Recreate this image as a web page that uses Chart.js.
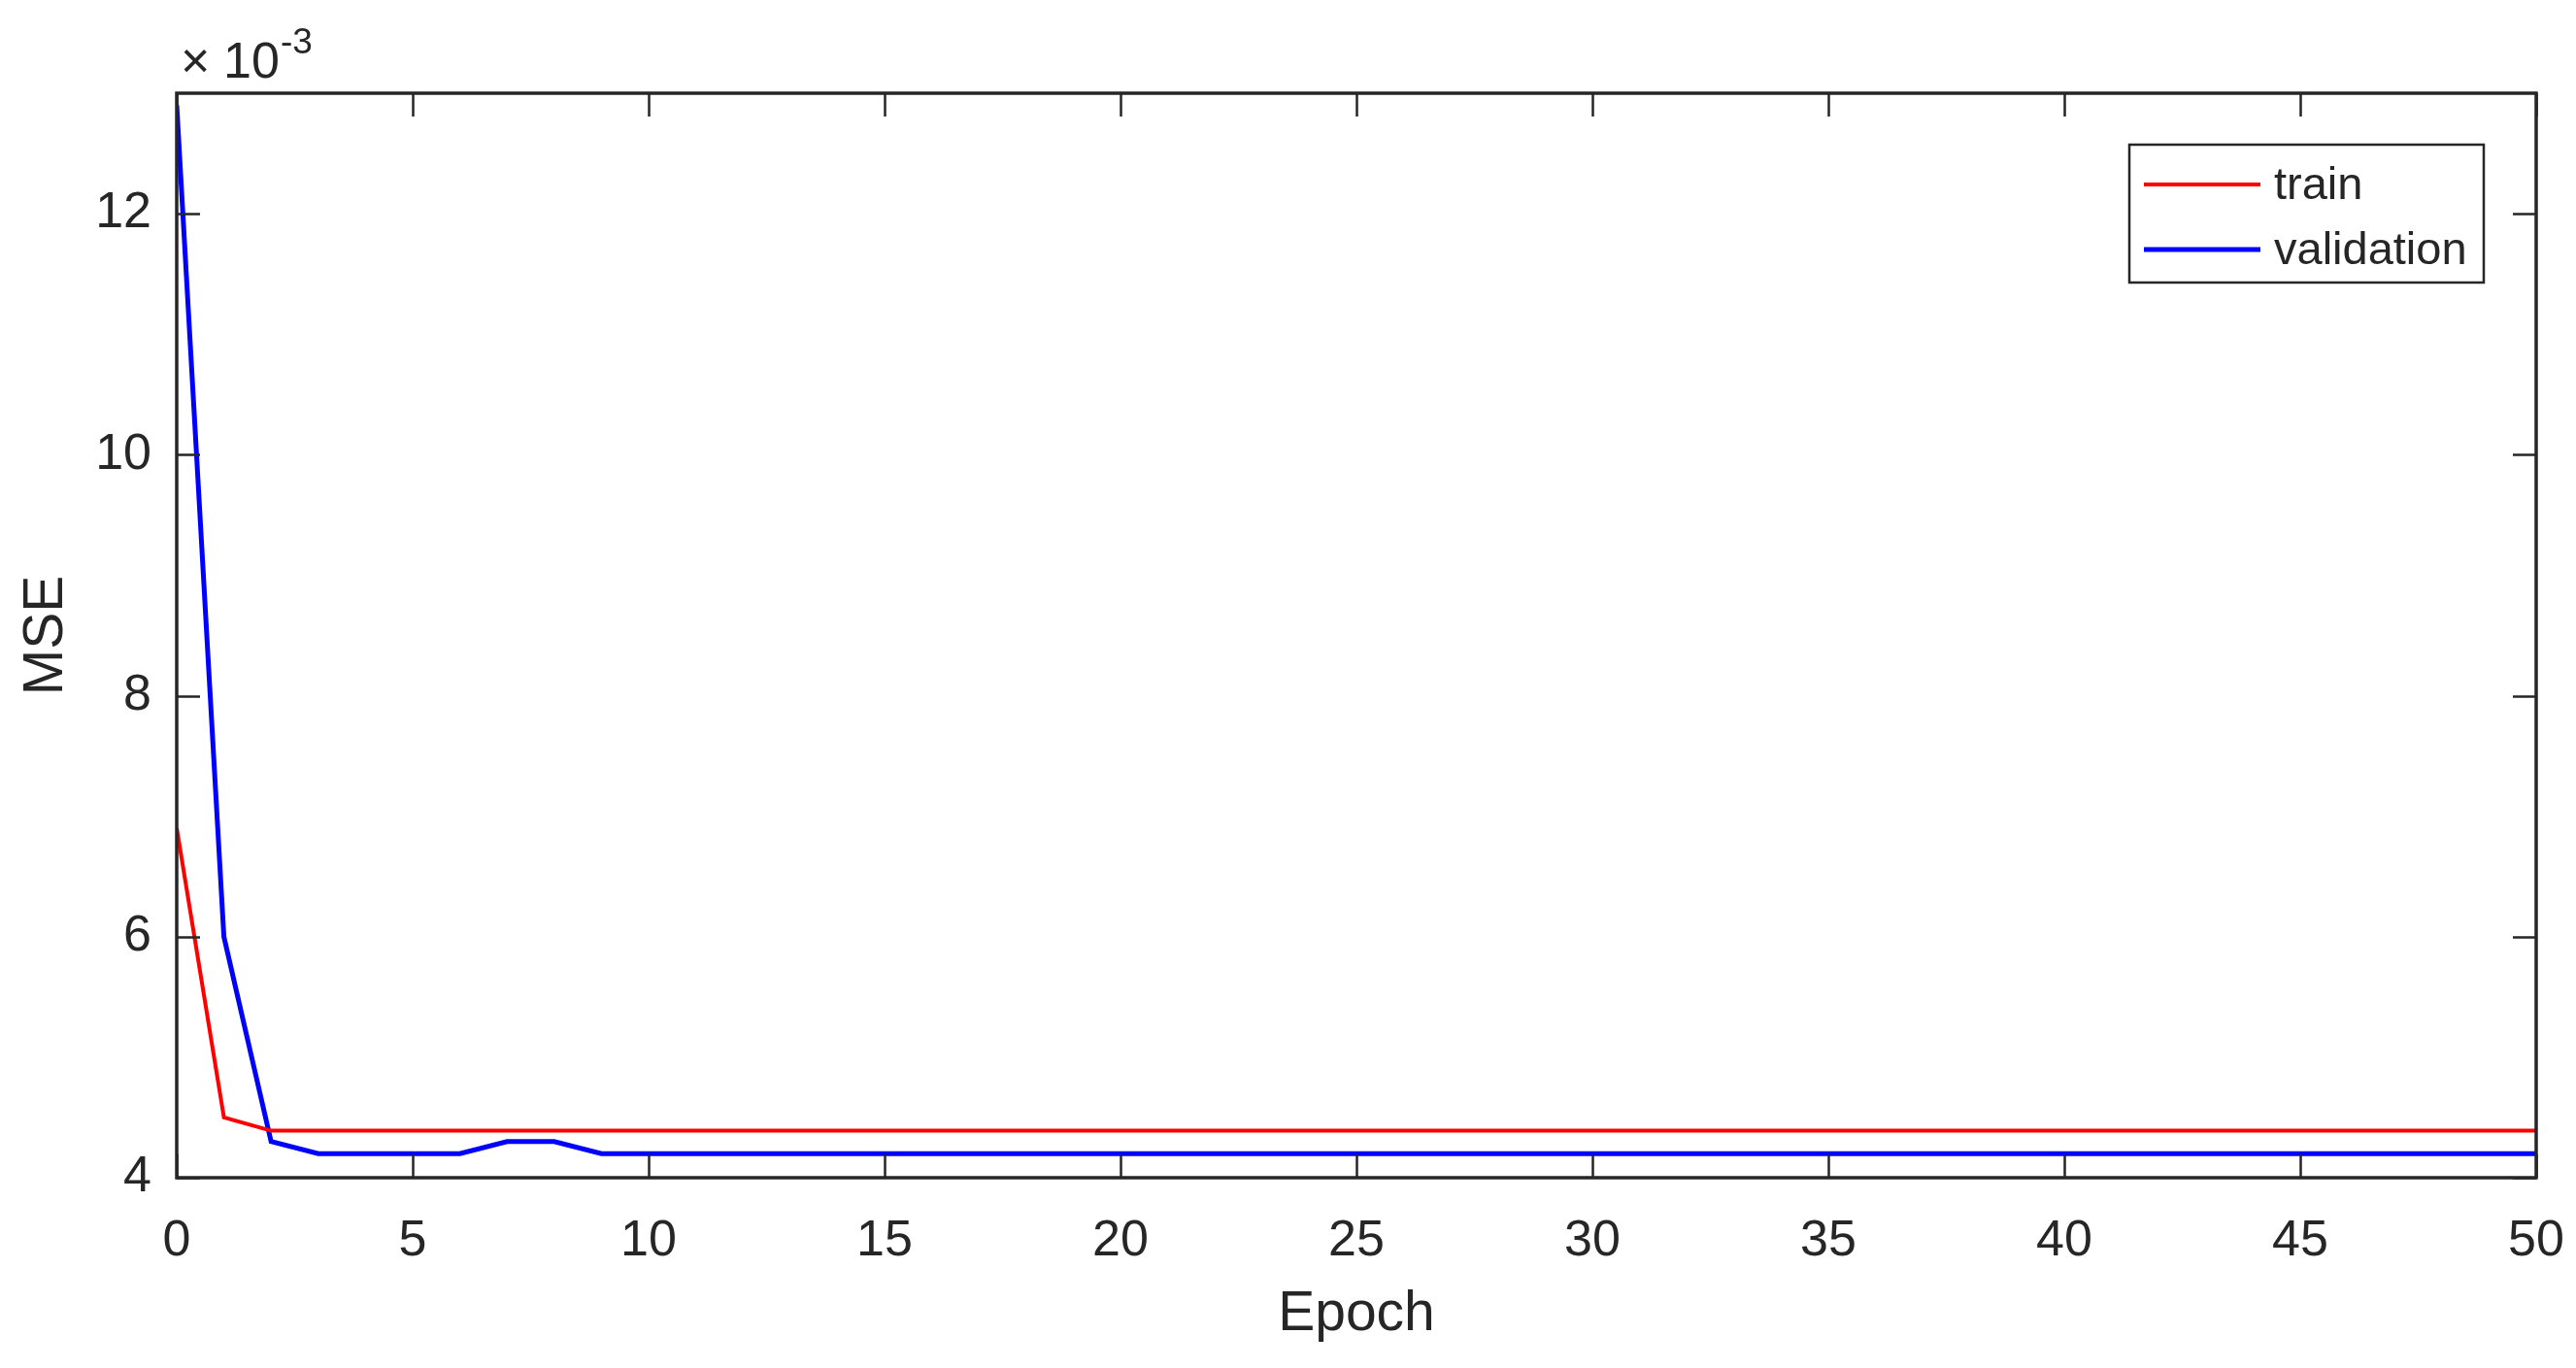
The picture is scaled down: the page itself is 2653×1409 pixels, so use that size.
<!DOCTYPE html>
<html>
<head>
<meta charset="utf-8">
<title>MSE vs Epoch</title>
<script src="https://cdn.jsdelivr.net/npm/chart.js@4.4.1/dist/chart.umd.min.js"></script>
<style>
    html, body { margin: 0; padding: 0; background: #ffffff; }
    #wrap { width: 2653px; height: 1409px; }
</style>
</head>
<body>
<div id="wrap"><canvas id="mseChart" width="2653" height="1409"></canvas></div>
<script>
// Data (MSE values in absolute units, axis shows x 10^-3)
const epochs = [0, 1, 2, 3, 4, 5, 6, 7, 8, 9, 10, 11, 12, 13, 14, 15, 16, 17, 18, 19, 20,
    21, 22, 23, 24, 25, 26, 27, 28, 29, 30, 31, 32, 33, 34, 35, 36, 37, 38, 39, 40,
    41, 42, 43, 44, 45, 46, 47, 48, 49, 50];
const trainMSE = [0.0069, 0.0045, 0.00439, 0.00439, 0.00439, 0.00439, 0.00439, 0.00439, 0.00439, 0.00439,
    0.00439, 0.00439, 0.00439, 0.00439, 0.00439, 0.00439, 0.00439, 0.00439, 0.00439, 0.00439,
    0.00439, 0.00439, 0.00439, 0.00439, 0.00439, 0.00439, 0.00439, 0.00439, 0.00439, 0.00439,
    0.00439, 0.00439, 0.00439, 0.00439, 0.00439, 0.00439, 0.00439, 0.00439, 0.00439, 0.00439,
    0.00439, 0.00439, 0.00439, 0.00439, 0.00439, 0.00439, 0.00439, 0.00439, 0.00439, 0.00439,
    0.00439];
const validationMSE = [0.0129, 0.0060, 0.0043, 0.0042, 0.0042, 0.0042, 0.0042, 0.0043, 0.0043, 0.0042,
    0.0042, 0.0042, 0.0042, 0.0042, 0.0042, 0.0042, 0.0042, 0.0042, 0.0042, 0.0042,
    0.0042, 0.0042, 0.0042, 0.0042, 0.0042, 0.0042, 0.0042, 0.0042, 0.0042, 0.0042,
    0.0042, 0.0042, 0.0042, 0.0042, 0.0042, 0.0042, 0.0042, 0.0042, 0.0042, 0.0042,
    0.0042, 0.0042, 0.0042, 0.0042, 0.0042, 0.0042, 0.0042, 0.0042, 0.0042, 0.0042,
    0.0042];
const seriesLabels = ['train', 'validation'];
const xTicks = [0, 5, 10, 15, 20, 25, 30, 35, 40, 45, 50];
const yTicks = [0.004, 0.006, 0.008, 0.010, 0.012];
const yMin = 0.004;
const yMax = 0.013;

const FONT = '"Liberation Sans", Arial, Helvetica, sans-serif';
const INK = '#262626';

/**
 * MATLAB style box: frame, inward ticks on all four sides, exponent, legend
 */
const matlabBox = {
    id: 'matlabBox',
    afterDraw(chart) {
        const ctx = chart.ctx;
        const area = chart.chartArea;
        const xs = chart.scales.x;
        const ys = chart.scales.y;
        const tickLen = 24;

        ctx.save();
        ctx.strokeStyle = INK;
        ctx.lineWidth = 2.5;

        // ticks
        ctx.beginPath();
        xs.ticks.forEach(t => {
            const px = Math.round(xs.getPixelForValue(t.value)) + 0.5;
            ctx.moveTo(px, area.bottom);
            ctx.lineTo(px, area.bottom - tickLen);
            ctx.moveTo(px, area.top);
            ctx.lineTo(px, area.top + tickLen);
        });
        ys.ticks.forEach(t => {
            const py = Math.round(ys.getPixelForValue(t.value)) + 0.5;
            ctx.moveTo(area.left, py);
            ctx.lineTo(area.left + tickLen, py);
            ctx.moveTo(area.right, py);
            ctx.lineTo(area.right - tickLen, py);
        });
        ctx.stroke();

        // frame
        ctx.lineWidth = 3.5;
        ctx.strokeRect(area.left, area.top, area.right - area.left, area.bottom - area.top);

        // exponent label above the y axis
        ctx.fillStyle = INK;
        ctx.textBaseline = 'alphabetic';
        ctx.textAlign = 'left';
        ctx.font = '52px ' + FONT;
        ctx.fillText('\u00d7', area.left + 4, area.top - 16);
        ctx.fillText('10', area.left + 48, area.top - 16);
        ctx.font = '37px ' + FONT;
        ctx.fillText('-3', area.left + 107, area.top - 41);

        // legend box
        const box = { x: area.right - 419, y: area.top + 53, w: 365, h: 142 };
        ctx.fillStyle = '#ffffff';
        ctx.fillRect(box.x, box.y, box.w, box.h);
        ctx.lineWidth = 2.5;
        ctx.strokeStyle = INK;
        ctx.strokeRect(box.x, box.y, box.w, box.h);

        const rows = [box.y + 41, box.y + 108];
        chart.data.datasets.forEach((ds, i) => {
            ctx.strokeStyle = ds.borderColor;
            ctx.lineWidth = ds.borderWidth;
            ctx.beginPath();
            ctx.moveTo(box.x + 15, rows[i]);
            ctx.lineTo(box.x + 135, rows[i]);
            ctx.stroke();

            ctx.fillStyle = INK;
            ctx.font = '47px ' + FONT;
            ctx.fillText(ds.label, box.x + 149, rows[i] + 15);
        });
        ctx.restore();
    }
};

const ctx = document.getElementById('mseChart').getContext('2d');

new Chart(ctx, {
    type: 'line',
    data: {
        datasets: [
            {
                label: seriesLabels[0],
                data: epochs.map((e, i) => ({ x: e, y: trainMSE[i] })),
                borderColor: '#ff0000',
                borderWidth: 4,
                pointRadius: 0,
                tension: 0,
                fill: false
            },
            {
                label: seriesLabels[1],
                data: epochs.map((e, i) => ({ x: e, y: validationMSE[i] })),
                borderColor: '#0000ff',
                borderWidth: 5,
                pointRadius: 0,
                tension: 0,
                fill: false
            }
        ]
    },
    options: {
        responsive: false,
        animation: false,
        events: [],
        layout: { padding: { top: 96, right: 41, left: 0, bottom: 0 } },
        plugins: {
            legend: { display: false },
            tooltip: { enabled: false }
        },
        scales: {
            x: {
                type: 'linear',
                min: 0,
                max: 50,
                afterBuildTicks: (scale) => { scale.ticks = xTicks.map(v => ({ value: v })); },
                afterFit: (scale) => {
                    scale.height = 196;
                    // labels may overhang; keep the plot box where the figure has it
                    scale.paddingLeft = 0;
                    scale.paddingRight = 0;
                },
                grid: { display: false, drawTicks: false },
                border: { display: false },
                ticks: {
                    color: INK,
                    padding: 34,
                    maxRotation: 0,
                    font: { family: FONT, size: 52 }
                },
                title: {
                    display: true,
                    text: 'Epoch',
                    color: INK,
                    padding: { top: 0, bottom: 21 },
                    font: { family: FONT, size: 57 }
                }
            },
            y: {
                type: 'linear',
                min: yMin,
                max: yMax,
                afterBuildTicks: (scale) => { scale.ticks = yTicks.map(v => ({ value: v })); },
                afterFit: (scale) => {
                    scale.width = 182;
                    scale.paddingTop = 0;
                    scale.paddingBottom = 0;
                },
                grid: { display: false, drawTicks: false },
                border: { display: false },
                ticks: {
                    color: INK,
                    padding: 26,
                    font: { family: FONT, size: 52 },
                    callback: (v) => String(Math.round(v * 1000))
                },
                title: {
                    display: true,
                    text: 'MSE',
                    color: INK,
                    padding: { top: 14, bottom: 0 },
                    font: { family: FONT, size: 57 }
                }
            }
        }
    },
    plugins: [matlabBox]
});
</script>
</body>
</html>
